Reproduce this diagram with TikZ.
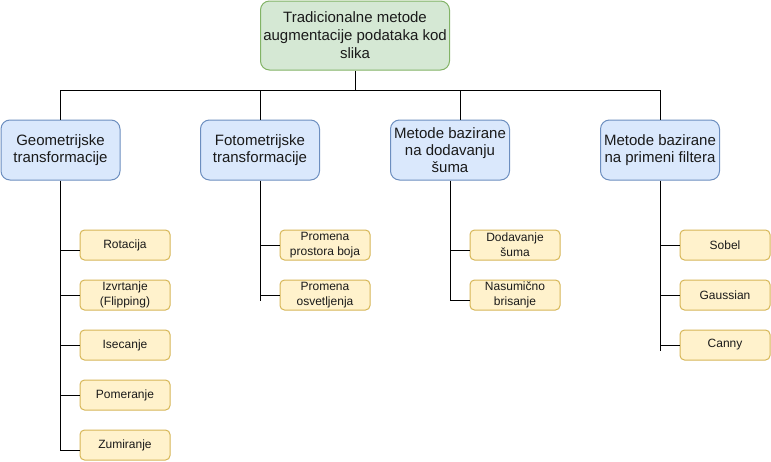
\documentclass[tikz,border=0pt]{standalone}
\usepackage{fontspec}
\setmainfont{Liberation Sans}
\definecolor{gfill}{HTML}{D5E8D4}
\definecolor{gdraw}{HTML}{82B366}
\definecolor{bfill}{HTML}{DAE8FC}
\definecolor{bdraw}{HTML}{6C8EBF}
\definecolor{yfill}{HTML}{FFF2CC}
\definecolor{ydraw}{HTML}{D6B656}
\definecolor{txt}{HTML}{1A1A1A}
\tikzset{
  rootbox/.style={draw=gdraw, fill=gfill, line width=1pt, rounded corners=9pt,
    minimum width=189pt, minimum height=69pt, inner sep=0pt, align=center,
    text=txt, font=\fontsize{15}{18}\selectfont},
  catbox/.style={draw=bdraw, fill=bfill, line width=1pt, rounded corners=9pt,
    minimum width=119pt, minimum height=60pt, inner sep=0pt, align=center,
    text=txt, font=\fontsize{15}{17}\selectfont},
  leafbox/.style={draw=ydraw, fill=yfill, line width=1pt, rounded corners=4.5pt,
    minimum width=90pt, minimum height=30pt, inner sep=0pt, align=center,
    text=txt, font=\fontsize{12}{15}\selectfont},
  conn/.style={draw=black, line width=1pt}
}
\begin{document}
\begin{tikzpicture}[x=1pt,y=-1pt]
\useasboundingbox (0,0) rectangle (771,461);
% root
\node[rootbox] (root) at (355,35.5) {Tradicionalne metode\\augmentacije podataka kod\\slika};
% categories
\node[catbox] (geo) at (60.5,150) {Geometrijske\\transformacije};
\node[catbox] (foto) at (260,150) {Fotometrijske\\transformacije};
\node[catbox] (sum) at (450,150) {Metode bazirane\\na dodavanju\\šuma};
\node[catbox] (filt) at (660,150) {Metode bazirane\\na primeni filtera};
% leaves
\node[leafbox] (rot) at (125,245) {Rotacija};
\node[leafbox] (izv) at (125,295) {Izvrtanje\\(Flipping)};
\node[leafbox] (ise) at (125,345) {Isecanje};
\node[leafbox] (pom) at (125,395) {Pomeranje};
\node[leafbox] (zum) at (125,445) {Zumiranje};
\node[leafbox] (pboj) at (325,245) {Promena\\prostora boja};
\node[leafbox] (posv) at (325,295) {Promena\\osvetljenja};
\node[leafbox] (dod) at (515,245) {Dodavanje\\šuma};
\node[leafbox] (nas) at (515,295) {Nasumično\\brisanje};
\node[leafbox] (sob) at (725,245) {Sobel};
\node[leafbox] (gau) at (725,295) {Gaussian};
\node[leafbox] (can) at (725,345) {Canny};
% bus
\coordinate (bus) at (355,90);
\draw[conn] (root.south) -- (bus);
\draw[conn] (bus) -| (geo.north);
\draw[conn] (bus) -| (foto.north);
\draw[conn] (bus) -| ([xshift=10pt]sum.north);
\draw[conn] (bus) -| (filt.north);
% geometric
\draw[conn] (geo.south) |- ([yshift=-5pt]zum.west);
\draw[conn] ([yshift=-5pt]rot.west) -- ++(-20,0);
\draw[conn] (izv.west) -- ++(-20,0);
\draw[conn] (ise.west) -- ++(-20,0);
\draw[conn] (pom.west) -- ++(-20,0);
% photometric
\draw[conn] (foto.south) -- ++(0,120);
\draw[conn] (pboj.west) -- ++(-20,0);
\draw[conn] (posv.west) -- ++(-20,0);
% noise
\draw[conn] (sum.south) |- ([yshift=-5pt]nas.west);
\draw[conn] ([yshift=-5pt]dod.west) -- ++(-20,0);
% filters
\draw[conn] (filt.south) -- ++(0,170);
\draw[conn] (sob.west) -- ++(-20,0);
\draw[conn] (gau.west) -- ++(-20,0);
\draw[conn] (can.west) -- ++(-20,0);
\end{tikzpicture}
\end{document}
